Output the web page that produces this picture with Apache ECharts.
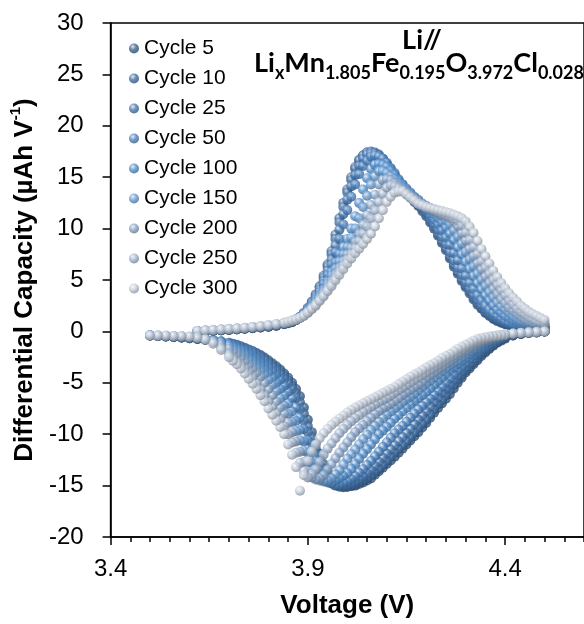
<!DOCTYPE html>
<html>
<head>
<meta charset="utf-8">
<script src="https://cdn.jsdelivr.net/npm/echarts@6/dist/echarts.min.js"></script>
<style>
  html, body { margin: 0; padding: 0; background: #fff; }
  #main { width: 584px; height: 624px; }
</style>
</head>
<body>
<div id="main"></div>
<script>
// voltage grids (V): coarse on the flat parts, 0.01 V where the curves move
var vCharge = [3.62, 3.64, 3.66, 3.68, 3.70, 3.72, 3.74, 3.76, 3.78, 3.80, 3.82, 3.84,
  3.85, 3.86, 3.87, 3.88, 3.89, 3.90, 3.91, 3.92, 3.93, 3.94,
  3.95, 3.96, 3.97, 3.98, 3.99, 4.00, 4.01, 4.02, 4.03, 4.04,
  4.05, 4.06, 4.07, 4.08, 4.09, 4.10, 4.11, 4.12, 4.13, 4.14,
  4.15, 4.16, 4.17, 4.18, 4.19, 4.20, 4.21, 4.22, 4.23, 4.24,
  4.25, 4.26, 4.27, 4.28, 4.29, 4.30, 4.31, 4.32, 4.33, 4.34,
  4.35, 4.36, 4.37, 4.38, 4.39, 4.40, 4.41, 4.42, 4.43, 4.44,
  4.45, 4.46, 4.47, 4.48, 4.49, 4.50];
var vDischarge = [4.50, 4.48, 4.46, 4.44, 4.42,
  4.40, 4.39, 4.38, 4.37, 4.36, 4.35, 4.34, 4.33, 4.32, 4.31,
  4.30, 4.29, 4.28, 4.27, 4.26, 4.25, 4.24, 4.23, 4.22, 4.21,
  4.20, 4.19, 4.18, 4.17, 4.16, 4.15, 4.14, 4.13, 4.12, 4.11,
  4.10, 4.09, 4.08, 4.07, 4.06, 4.05, 4.04, 4.03, 4.02, 4.01,
  4.00, 3.99, 3.98, 3.97, 3.96, 3.95, 3.94, 3.93, 3.92, 3.91,
  3.90, 3.89, 3.88, 3.87, 3.86, 3.85, 3.84, 3.83, 3.82, 3.81,
  3.80, 3.79, 3.78, 3.77, 3.76, 3.75, 3.74, 3.73, 3.72, 3.71,
  3.70,
  3.68, 3.66, 3.64, 3.62, 3.60, 3.58, 3.56, 3.54, 3.52, 3.50];

// dQ/dV on charge (µAh V-1), one value per vCharge point
var chg5 = [0.0, 0.0, 0.05, 0.1, 0.15, 0.2, 0.25, 0.3, 0.38, 0.45, 0.55, 0.7,
  0.8, 0.9, 1.1, 1.4, 1.8, 2.3, 2.9, 3.6, 4.4, 5.4,
  6.5, 7.8, 9.4, 11.0, 12.5, 13.8, 15.0, 16.0, 16.7, 17.1,
  17.4, 17.4, 17.3, 17.0, 16.6, 16.0, 15.4, 14.8, 14.3, 13.8,
  13.4, 13.0, 12.6, 12.2, 11.7, 11.2, 10.6, 10.0, 9.3, 8.6,
  7.9, 7.1, 6.3, 5.6, 4.9, 4.3, 3.7, 3.1, 2.6, 2.2,
  1.8, 1.5, 1.2, 1.0, 0.85, 0.7, 0.62, 0.55, 0.5, 0.45,
  0.42, 0.4, 0.37, 0.35, 0.32, 0.3];
var chg10 = [0.0, 0.02, 0.06, 0.1, 0.15, 0.2, 0.26, 0.32, 0.39, 0.46, 0.56, 0.72,
  0.82, 0.92, 1.12, 1.4, 1.75, 2.2, 2.8, 3.5, 4.3, 5.2,
  6.3, 7.5, 9.0, 10.6, 12.1, 13.5, 14.7, 15.8, 16.6, 17.1,
  17.4, 17.5, 17.4, 17.2, 16.8, 16.2, 15.6, 15.0, 14.4, 13.9,
  13.5, 13.1, 12.7, 12.3, 11.9, 11.4, 10.8, 10.2, 9.5, 8.8,
  8.1, 7.3, 6.5, 5.8, 5.1, 4.5, 3.9, 3.3, 2.8, 2.3,
  1.9, 1.6, 1.3, 1.1, 0.9, 0.75, 0.66, 0.58, 0.53, 0.48,
  0.45, 0.42, 0.39, 0.37, 0.35, 0.33];
var chg25 = [0.0, 0.03, 0.07, 0.11, 0.16, 0.21, 0.27, 0.33, 0.4, 0.47, 0.57, 0.73,
  0.83, 0.94, 1.15, 1.4, 1.7, 2.1, 2.65, 3.3, 4.05, 4.9,
  5.9, 7.0, 8.4, 9.9, 11.4, 12.8, 14.1, 15.2, 16.1, 16.8,
  17.2, 17.3, 17.3, 17.1, 16.8, 16.3, 15.8, 15.2, 14.6, 14.1,
  13.6, 13.2, 12.8, 12.4, 12.0, 11.6, 11.1, 10.5, 9.9, 9.2,
  8.5, 7.7, 6.9, 6.2, 5.5, 4.8, 4.2, 3.6, 3.1, 2.6,
  2.2, 1.8, 1.5, 1.25, 1.05, 0.85, 0.72, 0.62, 0.55, 0.5,
  0.47, 0.44, 0.41, 0.39, 0.37, 0.35];
var chg50 = [0.02, 0.04, 0.08, 0.12, 0.17, 0.22, 0.28, 0.34, 0.41, 0.48, 0.58, 0.74,
  0.84, 0.95, 1.13, 1.35, 1.65, 2.0, 2.5, 3.1, 3.8, 4.6,
  5.5, 6.5, 7.7, 9.0, 10.4, 11.8, 13.1, 14.3, 15.3, 16.1,
  16.6, 17.0, 17.1, 17.0, 16.8, 16.4, 15.9, 15.4, 14.8, 14.3,
  13.8, 13.4, 13.0, 12.6, 12.2, 11.8, 11.4, 10.9, 10.4, 9.8,
  9.1, 8.4, 7.6, 6.9, 6.1, 5.4, 4.7, 4.1, 3.5, 3.0,
  2.5, 2.1, 1.8, 1.5, 1.25, 1.0, 0.85, 0.72, 0.63, 0.56,
  0.52, 0.48, 0.45, 0.42, 0.4, 0.38];
var chg100 = [0.03, 0.06, 0.1, 0.14, 0.19, 0.24, 0.3, 0.36, 0.43, 0.5, 0.6, 0.76,
  0.86, 0.97, 1.14, 1.35, 1.65, 2.0, 2.4, 2.9, 3.5, 4.1,
  4.9, 5.8, 6.7, 7.5, 8.2, 9.0, 10.0, 11.2, 12.5, 13.8,
  14.9, 15.8, 16.2, 16.3, 16.2, 16.0, 15.6, 15.2, 14.7, 14.3,
  13.9, 13.5, 13.1, 12.8, 12.4, 12.1, 11.8, 11.4, 11.0, 10.6,
  10.1, 9.5, 8.9, 8.2, 7.5, 6.8, 6.1, 5.4, 4.7, 4.1,
  3.5, 3.0, 2.5, 2.1, 1.8, 1.5, 1.3, 1.1, 0.95, 0.8,
  0.7, 0.62, 0.57, 0.52, 0.48, 0.45];
var chg150 = [0.03, 0.07, 0.11, 0.15, 0.2, 0.25, 0.31, 0.37, 0.45, 0.52, 0.62, 0.78,
  0.88, 0.99, 1.15, 1.33, 1.6, 1.95, 2.35, 2.8, 3.3, 3.9,
  4.6, 5.4, 6.1, 6.8, 7.5, 8.2, 9.1, 10.0, 11.0, 12.1,
  13.2, 14.3, 15.1, 15.6, 15.6, 15.4, 15.1, 14.8, 14.4, 14.0,
  13.6, 13.3, 13.0, 12.7, 12.45, 12.2, 11.95, 11.7, 11.45, 11.2,
  10.8, 10.4, 9.8, 9.2, 8.5, 7.7, 7.0, 6.3, 5.6, 5.0,
  4.4, 3.8, 3.3, 2.8, 2.4, 2.1, 1.8, 1.5, 1.25, 1.05,
  0.92, 0.8, 0.7, 0.62, 0.56, 0.52];
var chg200 = [0.04, 0.08, 0.12, 0.17, 0.22, 0.27, 0.33, 0.4, 0.48, 0.56, 0.66, 0.81,
  0.9, 1.01, 1.15, 1.32, 1.58, 1.9, 2.3, 2.7, 3.2, 3.7,
  4.3, 4.9, 5.55, 6.2, 6.85, 7.5, 8.1, 8.7, 9.5, 10.4,
  11.3, 12.3, 13.3, 14.3, 14.7, 14.8, 14.7, 14.4, 14.1, 13.8,
  13.5, 13.2, 12.9, 12.6, 12.4, 12.2, 12.0, 11.8, 11.6, 11.4,
  11.2, 11.0, 10.7, 10.2, 9.5, 8.8, 8.0, 7.3, 6.6, 6.0,
  5.3, 4.7, 4.1, 3.6, 3.1, 2.7, 2.3, 2.0, 1.7, 1.45,
  1.2, 1.0, 0.88, 0.78, 0.7, 0.62];
var chg250 = [0.05, 0.09, 0.14, 0.19, 0.24, 0.29, 0.35, 0.42, 0.5, 0.59, 0.69, 0.83,
  0.92, 1.03, 1.15, 1.31, 1.55, 1.85, 2.2, 2.6, 3.05, 3.55,
  4.05, 4.6, 5.2, 5.8, 6.4, 7.0, 7.55, 8.1, 8.8, 9.5,
  10.2, 11.0, 11.8, 12.6, 13.4, 14.0, 14.2, 14.1, 13.9, 13.7,
  13.4, 13.1, 12.8, 12.5, 12.3, 12.1, 11.95, 11.8, 11.65, 11.5,
  11.35, 11.2, 11.0, 10.8, 10.3, 9.6, 8.9, 8.2, 7.5, 6.8,
  6.2, 5.6, 5.0, 4.5, 4.0, 3.5, 3.0, 2.6, 2.2, 1.9,
  1.65, 1.4, 1.2, 1.0, 0.9, 0.8];
var chg300 = [0.05, 0.1, 0.15, 0.2, 0.25, 0.3, 0.36, 0.44, 0.52, 0.62, 0.72, 0.85,
  0.95, 1.05, 1.15, 1.3, 1.5, 1.8, 2.15, 2.5, 2.95, 3.4,
  3.9, 4.4, 4.95, 5.5, 6.05, 6.6, 7.1, 7.6, 8.05, 8.5,
  9.0, 9.5, 10.2, 11.0, 11.8, 12.6, 13.1, 13.5, 13.6, 13.6,
  13.3, 13.0, 12.7, 12.4, 12.25, 12.1, 12.0, 11.9, 11.8, 11.7,
  11.6, 11.5, 11.35, 11.2, 11.0, 10.7, 10.2, 9.6, 8.8, 8.0,
  7.3, 6.6, 5.9, 5.3, 4.7, 4.2, 3.7, 3.3, 2.9, 2.5,
  2.2, 1.9, 1.7, 1.5, 1.3, 1.1];

// dQ/dV on discharge, one value per vDischarge point
var dis5 = [0.0, -0.1, -0.15, -0.25, -0.4,
  -0.7, -0.9, -1.1, -1.4, -1.7, -2.05, -2.4, -2.8, -3.2, -3.6,
  -4.0, -4.5, -5.0, -5.55, -6.1, -6.55, -7.0, -7.45, -7.9, -8.4,
  -8.9, -9.35, -9.8, -10.2, -10.6, -11.0, -11.4, -11.8, -12.2, -12.55,
  -12.9, -13.25, -13.6, -13.95, -14.3, -14.5, -14.7, -14.85, -15.0, -15.05,
  -15.1, -15.1, -15.0, -14.8, -14.4, -13.7, -12.9, -11.9, -10.9, -9.8,
  -8.6, -7.4, -6.3, -5.6, -5.0, -4.5, -4.1, -3.7, -3.4, -3.1,
  -2.8, -2.55, -2.3, -2.1, -1.9, -1.75, -1.6, -1.45, -1.3, -1.2,
  -1.1,
  -0.95, -0.85, -0.75, -0.7, -0.65, -0.6, -0.55, -0.5, -0.45, -0.4];
var dis10 = [0.0, -0.1, -0.15, -0.25, -0.4,
  -0.62, -0.82, -1.05, -1.3, -1.6, -1.9, -2.2, -2.6, -3.0, -3.4,
  -3.8, -4.25, -4.7, -5.2, -5.7, -6.2, -6.7, -7.1, -7.6, -8.1,
  -8.6, -9.0, -9.4, -9.85, -10.3, -10.7, -11.1, -11.45, -11.8, -12.2,
  -12.6, -13.0, -13.4, -13.7, -14.0, -14.25, -14.5, -14.7, -14.9, -15.0,
  -15.1, -15.15, -15.1, -15.0, -14.7, -14.1, -13.4, -12.4, -11.4, -10.3,
  -9.2, -8.0, -6.9, -6.0, -5.3, -4.8, -4.3, -3.9, -3.6, -3.3,
  -3.0, -2.7, -2.4, -2.2, -2.0, -1.85, -1.7, -1.55, -1.4, -1.27,
  -1.15,
  -1.0, -0.9, -0.8, -0.72, -0.66, -0.6, -0.55, -0.5, -0.45, -0.4];
var dis25 = [0.0, -0.08, -0.14, -0.22, -0.35,
  -0.55, -0.75, -0.95, -1.2, -1.45, -1.7, -1.95, -2.3, -2.7, -3.1,
  -3.5, -3.9, -4.3, -4.75, -5.2, -5.6, -6.0, -6.45, -6.9, -7.35,
  -7.8, -8.2, -8.6, -9.05, -9.5, -9.9, -10.3, -10.7, -11.1, -11.5,
  -11.9, -12.3, -12.7, -13.1, -13.5, -13.8, -14.1, -14.35, -14.6, -14.75,
  -14.9, -15.0, -15.0, -14.95, -14.8, -14.4, -13.8, -13.0, -12.0, -10.9,
  -9.8, -8.7, -7.6, -6.5, -5.6, -5.1, -4.6, -4.2, -3.8, -3.45,
  -3.1, -2.8, -2.5, -2.25, -2.0, -1.87, -1.75, -1.6, -1.45, -1.32,
  -1.2,
  -1.0, -0.9, -0.8, -0.72, -0.66, -0.6, -0.55, -0.5, -0.45, -0.4];
var dis50 = [0.0, -0.07, -0.12, -0.2, -0.32,
  -0.5, -0.67, -0.85, -1.05, -1.25, -1.5, -1.75, -2.05, -2.35, -2.7,
  -3.1, -3.45, -3.8, -4.2, -4.6, -5.0, -5.4, -5.8, -6.2, -6.55,
  -6.9, -7.25, -7.6, -8.0, -8.4, -8.8, -9.2, -9.55, -9.9, -10.35,
  -10.8, -11.25, -11.7, -12.15, -12.6, -13.0, -13.4, -13.75, -14.1, -14.35,
  -14.6, -14.75, -14.9, -14.9, -14.8, -14.6, -14.3, -13.5, -12.6, -11.6,
  -10.6, -9.5, -8.4, -7.4, -6.5, -5.9, -5.3, -4.7, -4.2, -3.85,
  -3.5, -3.2, -2.9, -2.6, -2.3, -2.1, -1.9, -1.75, -1.6, -1.45,
  -1.3,
  -1.05, -0.92, -0.82, -0.74, -0.67, -0.6, -0.55, -0.5, -0.45, -0.4];
var dis100 = [0.0, -0.06, -0.11, -0.18, -0.28,
  -0.45, -0.58, -0.72, -0.85, -1.0, -1.2, -1.45, -1.7, -1.95, -2.25,
  -2.6, -2.9, -3.2, -3.5, -3.8, -4.15, -4.5, -4.85, -5.2, -5.55,
  -5.9, -6.2, -6.5, -6.8, -7.1, -7.45, -7.8, -8.15, -8.5, -8.9,
  -9.3, -9.65, -10.0, -10.5, -11.0, -11.45, -11.9, -12.4, -12.9, -13.35,
  -13.8, -14.05, -14.3, -14.5, -14.7, -14.7, -14.5, -14.1, -13.6, -12.8,
  -11.8, -10.7, -9.6, -8.7, -7.8, -7.0, -6.2, -5.6, -5.0, -4.5,
  -4.0, -3.65, -3.3, -3.0, -2.7, -2.35, -2.05, -1.85, -1.7, -1.5,
  -1.35,
  -1.0, -0.9, -0.8, -0.7, -0.62, -0.56, -0.52, -0.48, -0.44, -0.4];
var dis150 = [0.0, -0.05, -0.1, -0.16, -0.25,
  -0.4, -0.5, -0.6, -0.72, -0.85, -1.0, -1.2, -1.45, -1.7, -1.95,
  -2.2, -2.5, -2.8, -3.05, -3.3, -3.6, -3.9, -4.2, -4.5, -4.8,
  -5.1, -5.4, -5.75, -6.05, -6.35, -6.6, -6.9, -7.2, -7.5, -7.8,
  -8.1, -8.45, -8.8, -9.2, -9.6, -10.05, -10.5, -11.0, -11.5, -11.95,
  -12.4, -12.95, -13.5, -13.9, -14.3, -14.5, -14.6, -14.5, -14.3, -13.6,
  -12.7, -11.6, -10.6, -9.7, -8.8, -8.0, -7.2, -6.5, -5.8, -5.2,
  -4.7, -4.2, -3.8, -3.45, -3.1, -2.75, -2.4, -2.15, -1.9, -1.7,
  -1.5,
  -1.1, -0.9, -0.75, -0.65, -0.57, -0.52, -0.48, -0.45, -0.42, -0.4];
var dis200 = [0.0, -0.05, -0.09, -0.14, -0.22,
  -0.33, -0.4, -0.48, -0.6, -0.72, -0.85, -1.0, -1.2, -1.4, -1.6,
  -1.85, -2.1, -2.35, -2.6, -2.9, -3.15, -3.45, -3.7, -4.0, -4.25,
  -4.55, -4.9, -5.2, -5.45, -5.7, -5.95, -6.2, -6.5, -6.8, -7.05,
  -7.3, -7.5, -7.75, -8.05, -8.4, -8.75, -9.1, -9.45, -9.8, -10.3,
  -10.8, -11.3, -11.8, -12.35, -12.9, -13.45, -14.0, -14.3, -14.4, -14.2,
  -13.7, -12.7, -11.7, -10.7, -9.8, -8.9, -8.0, -7.4, -6.8, -6.2,
  -5.6, -5.0, -4.4, -4.0, -3.6, -3.25, -2.9, -2.55, -2.2, -1.95,
  -1.7,
  -1.3, -0.95, -0.75, -0.62, -0.55, -0.5, -0.47, -0.44, -0.42, -0.4];
var dis250 = [0.0, -0.05, -0.09, -0.13, -0.2,
  -0.3, -0.36, -0.43, -0.5, -0.6, -0.72, -0.85, -1.0, -1.15, -1.35,
  -1.55, -1.8, -2.05, -2.3, -2.5, -2.75, -3.0, -3.25, -3.5, -3.75,
  -4.0, -4.25, -4.5, -4.75, -5.0, -5.25, -5.5, -5.75, -6.0, -6.25,
  -6.5, -6.7, -6.9, -7.1, -7.35, -7.6, -7.85, -8.15, -8.45, -8.75,
  -9.1, -9.5, -9.9, -10.4, -10.9, -11.4, -12.0, -12.7, -13.4, -13.9,
  -14.2, -13.6, -12.8, -11.8, -10.8, -10.0, -9.2, -8.5, -7.9, -7.3,
  -6.8, -6.2, -5.6, -5.0, -4.4, -3.95, -3.6, -3.2, -2.9, -2.55,
  -2.2,
  -1.6, -1.05, -0.8, -0.63, -0.53, -0.48, -0.46, -0.43, -0.41, -0.4];
var dis300 = [0.0, -0.05, -0.1, -0.15, -0.2,
  -0.3, -0.35, -0.4, -0.45, -0.5, -0.57, -0.65, -0.75, -0.9, -1.1,
  -1.3, -1.5, -1.7, -1.95, -2.2, -2.4, -2.6, -2.85, -3.1, -3.3,
  -3.5, -3.75, -4.0, -4.2, -4.4, -4.65, -4.9, -5.15, -5.4, -5.6,
  -5.8, -6.0, -6.2, -6.4, -6.6, -6.8, -7.0, -7.2, -7.4, -7.65,
  -7.9, -8.2, -8.5, -8.8, -9.1, -9.5, -9.9, -10.4, -11.0, -11.7,
  -12.6, -14.0, -15.5, -13.2, -12.0, -11.0, -10.0, -9.3, -8.7, -8.1,
  -7.5, -6.8, -6.2, -5.6, -5.1, -4.6, -4.1, -3.6, -3.2, -2.85,
  -2.5,
  -1.8, -1.2, -0.8, -0.6, -0.5, -0.45, -0.45, -0.4, -0.4, -0.4];

var names = ['Cycle 5', 'Cycle 10', 'Cycle 25', 'Cycle 50', 'Cycle 100', 'Cycle 150', 'Cycle 200', 'Cycle 250', 'Cycle 300'];
var colors = ['#3a6593', '#4471a6', '#4a7cb6', '#4f86c3', '#5592d1', '#6b9fd4', '#8aa7cb', '#a5b8d2', '#c6d0de'];
var charge = [chg5, chg10, chg25, chg50, chg100, chg150, chg200, chg250, chg300];
var discharge = [dis5, dis10, dis25, dis50, dis100, dis150, dis200, dis250, dis300];
var xStart = 3.4;

var FONT = 'Liberation Sans, Arial, sans-serif';

// t > 0 lightens toward white, t < 0 darkens
function mix(hex, t) {
  var n = parseInt(hex.slice(1), 16);
  var c = [(n >> 16) & 255, (n >> 8) & 255, n & 255].map(function (v) {
    return Math.round(t > 0 ? v + (255 - v) * t : v * (1 + t));
  });
  return 'rgb(' + c.join(',') + ')';
}
function sphere(hex) {
  return {
    type: 'radial', x: 0.38, y: 0.32, r: 0.72,
    colorStops: [
      { offset: 0, color: mix(hex, 0.8) },
      { offset: 0.45, color: hex },
      { offset: 1, color: mix(hex, -0.35) }
    ]
  };
}

var chart = echarts.init(document.getElementById('main'));

var option = {
  animation: false,
  backgroundColor: '#fff',
  grid: {
    left: 103, top: 23, width: 483.6, height: 515.3,
    show: true, borderColor: '#000', borderWidth: 1.5
  },
  legend: {
    orient: 'vertical',
    left: 129, top: 38,
    padding: 0,
    itemWidth: 10, itemHeight: 10, itemGap: 9,
    icon: 'circle',
    textStyle: { fontFamily: FONT, fontSize: 21, lineHeight: 21, color: '#000' },
    data: names
  },
  xAxis: [{
    type: 'value', min: 3.4, max: 4.6, interval: 0.05,
    position: 'bottom',
    axisLine: { show: true, onZero: false, lineStyle: { color: '#000', width: 1.5 } },
    axisTick: { show: true, length: 5, lineStyle: { color: '#000', width: 1.5 } },
    axisLabel: { show: false },
    splitLine: { show: false }
  }, {
    // offset scale only used for the labelled major ticks (0 = 3.4 V)
    type: 'value', min: 0, max: 1.2, interval: 0.5,
    position: 'bottom',
    axisLine: { show: false, onZero: false },
    axisTick: { show: true, length: 8, lineStyle: { color: '#000', width: 1.5 } },
    axisLabel: {
      showMaxLabel: false, margin: 20,
      fontFamily: FONT, fontSize: 24, color: '#000',
      formatter: function (v) { return (xStart + v).toFixed(1); }
    },
    splitLine: { show: false },
    name: 'Voltage (V)', nameLocation: 'middle', nameGap: 56,
    nameTextStyle: { fontFamily: FONT, fontSize: 26, fontWeight: 'bold', color: '#000' }
  }],
  yAxis: {
    type: 'value', min: -20, max: 30, interval: 5,
    axisLine: { show: true, onZero: false, lineStyle: { color: '#000', width: 1.5 } },
    axisTick: { show: true, length: 8, lineStyle: { color: '#000', width: 1.5 } },
    axisLabel: { margin: 27, fontFamily: FONT, fontSize: 24, color: '#000' },
    splitLine: { show: false },
    name: '{a|Differential Capacity (µAh V}{b|-1}{a|)}',
    nameLocation: 'middle', nameGap: 40, nameRotate: 90,
    nameTextStyle: {
      color: '#000',
      rich: {
        a: { fontFamily: FONT, fontSize: 26, fontWeight: 'bold', lineHeight: 30, verticalAlign: 'bottom', color: '#000' },
        b: { fontFamily: FONT, fontSize: 15, fontWeight: 'bold', lineHeight: 15, verticalAlign: 'top', color: '#000' }
      }
    }
  },
  graphic: [{
    type: 'text', x: 422, y: 40,
    style: {
      text: 'Li//', fill: '#000', font: 'bold 27px Lato',
      align: 'center', verticalAlign: 'middle', textAlign: 'center', textVerticalAlign: 'middle'
    }
  }, {
    type: 'text', x: 419, y: 55,
    style: {
      text: '{m|Li}{s|x}{m|Mn}{s|1.805}{m|Fe}{s|0.195}{m|O}{s|3.972}{m|Cl}{s|0.028}',
      fill: '#000',
      align: 'center', verticalAlign: 'top', textAlign: 'center', textVerticalAlign: 'top',
      rich: {
        m: { fontFamily: 'Lato', fontWeight: 'bold', fontSize: 27, lineHeight: 27, verticalAlign: 'bottom', padding: [0, 0, 5, 0], fill: '#000' },
        s: { fontFamily: 'Lato', fontWeight: 'bold', fontSize: 18, lineHeight: 18, verticalAlign: 'bottom', fill: '#000' }
      }
    }
  }],
  series: names.map(function (name, i) {
    var pts = vCharge.map(function (v, k) { return [v, charge[i][k]]; })
      .concat(vDischarge.map(function (v, k) { return [v, discharge[i][k]]; }));
    return {
      name: name,
      type: 'scatter',
      xAxisIndex: 0,
      symbol: 'circle',
      symbolSize: 10,
      itemStyle: { color: sphere(colors[i]) },
      emphasis: { disabled: true },
      data: pts
    };
  })
};

chart.setOption(option);
</script>
</body>
</html>
